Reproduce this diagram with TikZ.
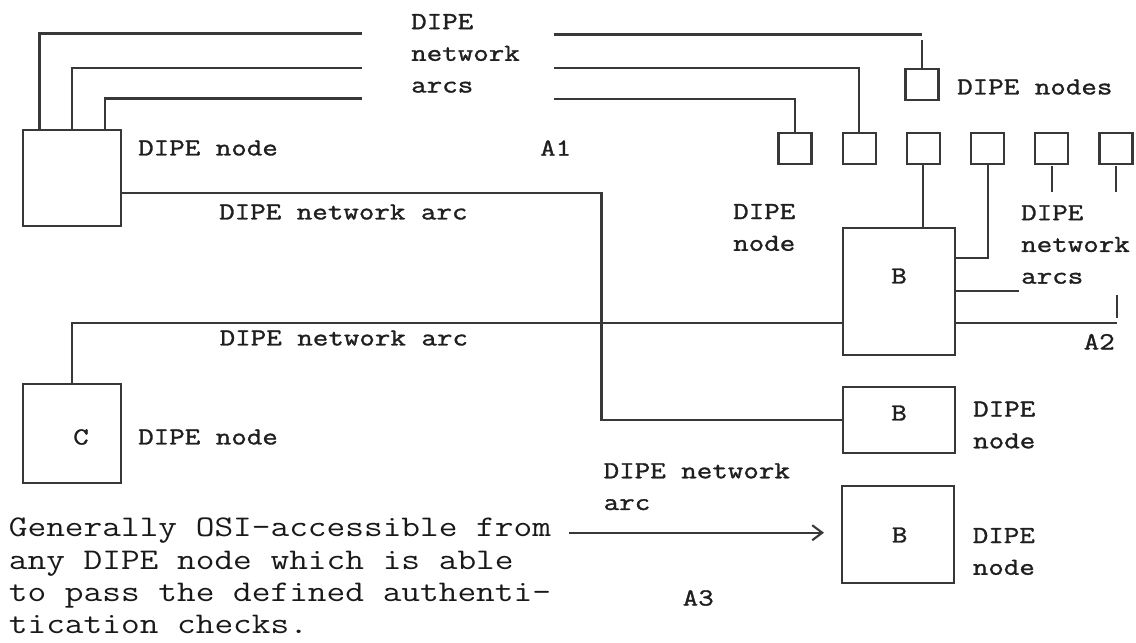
\documentclass[tikz,border=0pt]{standalone}
\usepackage{fontspec}
\newfontfamily\lab{Latin Modern Mono}[FakeStretch=1.23, FakeBold=1.3]
\newfontfamily\parafont{Latin Modern Mono}[FakeStretch=1.21]
\usetikzlibrary{arrows.meta,calc}
\begin{document}
\begin{tikzpicture}[x=1pt,y=-1pt,
  ln/.style={line width=2.1pt, draw=black!78},
  nbox/.style={ln, rectangle, inner sep=0pt, outer sep=0pt},
  sbox/.style={nbox, minimum width=33pt, minimum height=31pt},
  lbl/.style={inner sep=0pt, anchor=west, align=left, text=black!88, font=\lab\fontsize{24.5}{31.7}\selectfont},
  ctr/.style={lbl, anchor=center},
  para/.style={inner sep=0pt, anchor=north west, align=left, text=black!90, font=\parafont\fontsize{30}{32.2}\selectfont},
  tip/.style={-{Straight Barb[length=10pt,width=15pt]}}
]
\path[use as bounding box, fill=white] (0,0) rectangle (1136,643);

% boxes
\node[nbox, minimum width=98pt, minimum height=96pt] (L) at (72,178) {};
\node[nbox, minimum width=98pt, minimum height=99pt] (C) at (72,433.5) {};
\node[ctr] (Ct) at (81,437) {C};
\node[nbox, minimum width=112pt, minimum height=127pt] (B1) at (899,291.5) {};
\node[ctr] (B1t) at (899,276) {B};
\node[nbox, minimum width=112pt, minimum height=66pt] (B2) at (899,420) {};
\node[ctr] (B2t) at (899,413) {B};
\node[nbox, minimum width=112pt, minimum height=97pt] (B3) at (898,534.5) {};
\node[ctr] (B3t) at (899.6,535) {B};

\node[sbox] (S0) at (922,84.5) {};
\foreach \i in {1,...,6} \node[sbox] (S\i) at ({795+64.2*(\i-1)},148.5) {};

% coordinates
\coordinate (a1) at (362,33.5);
\coordinate (a2) at (362,68);
\coordinate (a3) at (362,98.5);
\coordinate (b1) at (553.6,34.5);
\coordinate (b2) at (553.6,68.3);
\coordinate (b3) at (553.6,99.3);
\coordinate (k1) at (601.5,193.3);
\coordinate (k2) at (72.4,322.7);
\coordinate (k3) at (0,258);
\coordinate (k4) at (1019,291);
\coordinate (k5) at (1116.6,323.3);
\coordinate (k6) at (1116.6,295);
\coordinate (k7) at (1116.6,318);
\coordinate (k8) at (569,532.7);

% top arcs
\draw[ln] ($(L.north west)+(16.5,0)$) |- (a1);
\draw[ln] ($(L.north west)+(49.4,0)$) |- (a2);
\draw[ln] ($(L.north west)+(81.8,0)$) |- (a3);
\draw[ln] (b1) -- (b1 -| S0.north);
\draw[ln] ($(b1 -| S0.north)+(0,5.5)$) -- (S0.north);
\draw[ln] (b2) -| (S2.north);
\draw[ln] (b3) -| (S1.north);

% other arcs
\draw[ln] (k1 -| L.east) -- (k1) |- (B2.west);
\draw[ln] (C.north -| k2) -- (k2) -- (k2 -| B1.west);
\draw[ln] (S3.south) -- (S3.south |- B1.north);
\draw[ln] (S4.south) |- (k3 -| B1.east);
\draw[ln] ($(S5.south)+(0,1.5)$) -- ++(0,26);
\draw[ln] ($(S6.south)+(0,1.5)$) -- ++(0,26);
\draw[ln] (k4 -| B1.east) -- (k4);
\draw[ln] (k5 -| B1.east) -- (k5);
\draw[ln] (k6) -- (k7);
\draw[ln, tip, shorten >=18pt] (k8) -- (k8 -| B3.west);

% labels
\node[lbl] (t1) at (411,53.4) {DIPE\\network\\arcs};
\node[lbl] (t2) at (138,148) {DIPE node};
\node[lbl] (t3) at (540,148) {A1};
\node[lbl] (t4) at (219,212) {DIPE network arc};
\node[lbl] (t5) at (733,227.5) {DIPE\\node};
\node[lbl] (t6) at (957,87) {DIPE nodes};
\node[lbl] (t7) at (1021,244.5) {DIPE\\network\\arcs};
\node[lbl] (t8) at (1083.5,341.7) {A2};
\node[lbl] (t9) at (219.5,338) {DIPE network arc};
\node[lbl] (t10) at (973,425) {DIPE\\node};
\node[lbl] (t11) at (138,437) {DIPE node};
\node[lbl] (t12) at (603.5,486.7) {DIPE network\\arc};
\node[lbl] (t13) at (972.6,551.5) {DIPE\\node};
\node[lbl] (t14) at (682.5,598) {A3};
\node[para] (p) at (8.7,518) {Generally OSI-accessible from\\any DIPE node which is able\\to pass the defined authenti-\\tication checks.};
\end{tikzpicture}
\end{document}
